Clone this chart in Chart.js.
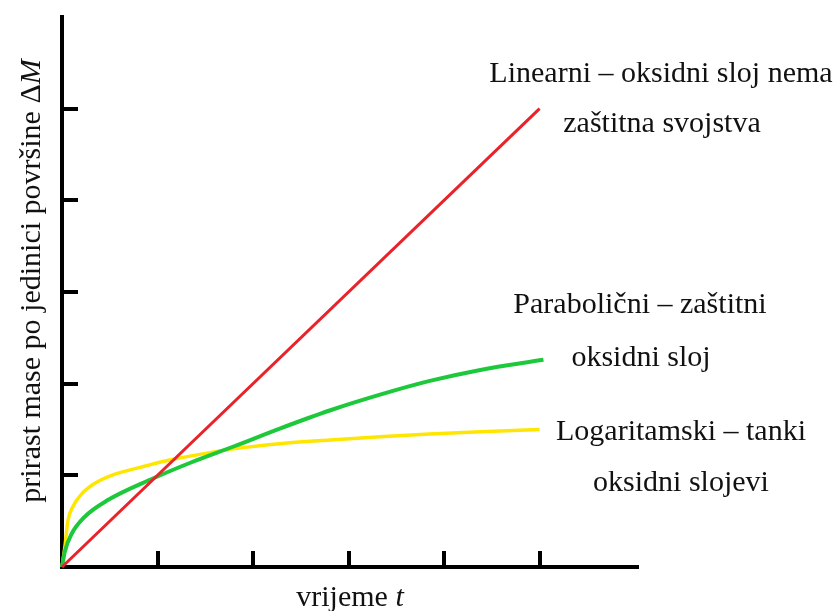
<!DOCTYPE html>
<html>
<head>
<meta charset="utf-8">
<script src="https://cdn.jsdelivr.net/npm/chart.js@4.4.1/dist/chart.umd.min.js"></script>
<style>
  html, body { margin: 0; padding: 0; background: #ffffff; }
  #wrap { width: 837px; height: 611px; position: relative; }
</style>
</head>
<body>
<div id="wrap"><canvas id="c" width="837" height="611"></canvas></div>
<script>
// ---- data ----
const linearT      = [0, 5.0];
const linearM      = [0, 5.0];

const parabolicT   = [0, 0.03, 0.10, 0.24, 0.48, 0.94, 1.35, 1.81, 2.28, 2.81, 3.33, 3.85, 4.38, 5.04];
const parabolicM   = [0, 0.17, 0.36, 0.55, 0.73, 0.96, 1.14, 1.32, 1.51, 1.71, 1.88, 2.03, 2.15, 2.26];

const logT         = [0, 0.03, 0.063, 0.115, 0.20, 0.34, 0.52, 0.83, 1.14, 1.53, 1.84, 2.28, 2.81, 3.33, 3.85, 4.38, 5.0];
const logM         = [0, 0.22, 0.51, 0.66, 0.79, 0.91, 1.00, 1.09, 1.17, 1.245, 1.295, 1.345, 1.385, 1.42, 1.45, 1.475, 1.50];

const xTicks = [1, 2, 3, 4, 5];
const yTicks = [1, 2, 3, 4, 5];

const seriesNames = ['Linearni', 'Parabolični', 'Logaritamski'];

const annotationLines = [
  ['Linearni – oksidni sloj nema', 'zaštitna svojstva'],
  ['Parabolični – zaštitni', 'oksidni sloj'],
  ['Logaritamski – tanki', 'oksidni slojevi']
];

const xTitle = [['vrijeme ', 'normal'], ['t', 'italic']];
const yTitle = [['prirast mase po jedinici površine Δ', 'normal'], ['M', 'italic']];

function pts(xs, ys) { return xs.map((x, i) => ({ x: x, y: ys[i] })); }

const FONT = '"Liberation Serif", "Times New Roman", serif';
const FS = 30;

function drawRich(ctx, parts, cx, baseline) {
  let total = 0;
  const widths = parts.map(([txt, style]) => {
    ctx.font = style + ' ' + FS + 'px ' + FONT;
    const w = ctx.measureText(txt).width;
    total += w;
    return w;
  });
  let x = cx - total / 2;
  parts.forEach(([txt, style], i) => {
    ctx.font = style + ' ' + FS + 'px ' + FONT;
    ctx.fillText(txt, x, baseline);
    x += widths[i];
  });
}

const decor = {
  id: 'decor',
  afterDraw(chart) {
    const ctx = chart.ctx;
    const xs = chart.scales.x, ys = chart.scales.y;
    const area = chart.chartArea;
    ctx.save();
    // tick marks pointing into the plot
    ctx.strokeStyle = '#000';
    ctx.lineWidth = 4;
    ctx.lineCap = 'butt';
    yTicks.forEach(v => {
      const py = Math.round(ys.getPixelForValue(v));
      ctx.beginPath();
      ctx.moveTo(area.left, py);
      ctx.lineTo(area.left + 16, py);
      ctx.stroke();
    });
    xTicks.forEach(v => {
      const px = Math.round(xs.getPixelForValue(v));
      ctx.beginPath();
      ctx.moveTo(px, area.bottom);
      ctx.lineTo(px, area.bottom - 16);
      ctx.stroke();
    });

    // annotations
    ctx.fillStyle = '#111';
    ctx.textAlign = 'left';
    ctx.textBaseline = 'alphabetic';
    const annPos = [
      [[661, 82], [662, 132]],
      [[640, 313], [641, 366]],
      [[681, 440], [681, 491]]
    ];
    annotationLines.forEach((lines, i) => {
      lines.forEach((txt, j) => {
        drawRich(ctx, [[txt, 'normal']], annPos[i][j][0], annPos[i][j][1]);
      });
    });

    // axis titles
    drawRich(ctx, xTitle, 350, 606);
    ctx.save();
    ctx.translate(40, 281);
    ctx.rotate(-Math.PI / 2);
    drawRich(ctx, yTitle, 0, 0);
    ctx.restore();

    ctx.restore();
  }
};

new Chart(document.getElementById('c'), {
  type: 'line',
  data: {
    datasets: [
      { label: seriesNames[0], data: pts(linearT, linearM), borderColor: '#e8232a', borderWidth: 3, pointRadius: 0, tension: 0, clip: false, order: 1 },
      { label: seriesNames[1], data: pts(parabolicT, parabolicM), borderColor: '#1dc83b', borderWidth: 4, pointRadius: 0, cubicInterpolationMode: 'monotone', clip: false, order: 2 },
      { label: seriesNames[2], data: pts(logT, logM), borderColor: '#ffe600', borderWidth: 3.5, pointRadius: 0, cubicInterpolationMode: 'monotone', clip: false, order: 3 }
    ]
  },
  options: {
    responsive: false,
    animation: false,
    events: [],
    layout: { padding: { left: 62, right: 199, top: 17, bottom: 44 } },
    plugins: { legend: { display: false }, tooltip: { enabled: false } },
    scales: {
      x: {
        type: 'linear', min: 0, max: 6.03,
        ticks: { display: false },
        grid: { display: false },
        border: { display: true, color: '#000', width: 4 },
        afterFit(s) { s.height = 0; }
      },
      y: {
        type: 'linear', min: 0, max: 6.0,
        ticks: { display: false },
        grid: { display: false },
        border: { display: true, color: '#000', width: 4 },
        afterFit(s) { s.width = 0; }
      }
    }
  },
  plugins: [decor]
});
</script>
</body>
</html>
